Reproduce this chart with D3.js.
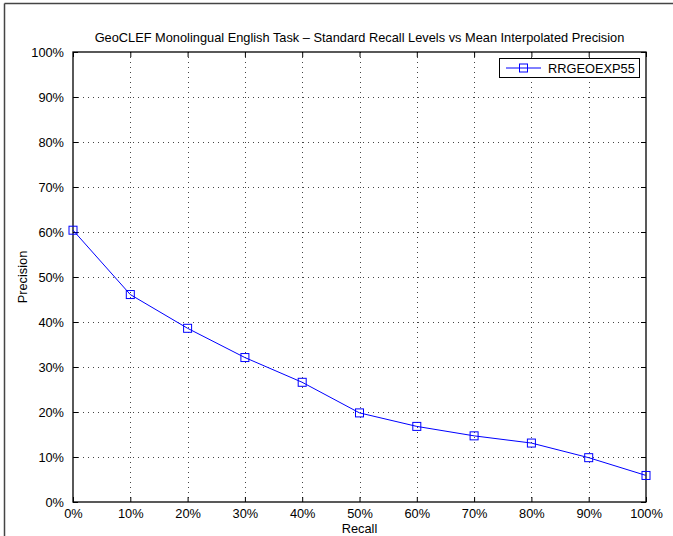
<!DOCTYPE html>
<html><head><meta charset="utf-8">
<script src="https://cdn.jsdelivr.net/npm/d3@7/dist/d3.min.js"></script>
<style>body{margin:0;background:#fff}svg{display:block}text{font-family:"Liberation Sans",Arial,sans-serif;fill:#000}</style>
</head><body><svg id="c" width="673" height="536"></svg>
<script>
const title = "GeoCLEF Monolingual English Task \u2013 Standard Recall Levels vs Mean Interpolated Precision";
const recallLevels = [0, 10, 20, 30, 40, 50, 60, 70, 80, 90, 100];
const precision = [60.4, 46.1, 38.6, 32.1, 26.6, 19.8, 16.8, 14.7, 13.1, 9.85, 5.9];
const seriesName = "RRGEOEXP55";
const xTicks = [0, 10, 20, 30, 40, 50, 60, 70, 80, 90, 100];
const yTicks = [0, 10, 20, 30, 40, 50, 60, 70, 80, 90, 100];
const xLabel = "Recall", yLabel = "Precision";

const svg = d3.select("#c");
const L = 73, R = 646, T = 52, B = 502;
const FS = "12.8px";
const x = d3.scaleLinear().domain([0, 100]).range([L, R]);
const y = d3.scaleLinear().domain([0, 100]).range([B, T]);

// outer frame (top and left visible)
svg.append("line").attr("x1", 4.5).attr("x2", 673).attr("y1", 3.5).attr("y2", 3.5).attr("stroke", "#444").attr("stroke-width", 1.5);
svg.append("line").attr("x1", 4.5).attr("x2", 4.5).attr("y1", 3.5).attr("y2", 536).attr("stroke", "#444").attr("stroke-width", 1.5);

// grid
const g = svg.append("g");
g.selectAll(".gx").data(xTicks.slice(1, -1)).enter().append("line")
  .attr("x1", d => Math.round(x(d)) + 0.5).attr("x2", d => Math.round(x(d)) + 0.5)
  .attr("y1", T).attr("y2", B).attr("stroke", "#444").attr("stroke-dasharray", "1,4");
g.selectAll(".gy").data(yTicks.slice(1, -1)).enter().append("line")
  .attr("y1", d => Math.round(y(d)) + 0.5).attr("y2", d => Math.round(y(d)) + 0.5)
  .attr("x1", L).attr("x2", R).attr("stroke", "#444").attr("stroke-dasharray", "1,4");

// axes with inward ticks
const ax = svg.append("g").attr("transform", `translate(0,${B})`)
  .call(d3.axisBottom(x).tickValues(xTicks).tickFormat(d => d + "%").tickSizeInner(-5).tickSizeOuter(0).tickPadding(7));
const axTop = svg.append("g").attr("transform", `translate(0,${T})`)
  .call(d3.axisTop(x).tickValues(xTicks).tickFormat("").tickSizeInner(-5).tickSizeOuter(0));
const ay = svg.append("g").attr("transform", `translate(${L},0)`)
  .call(d3.axisLeft(y).tickValues(yTicks).tickFormat(d => d + "%").tickSizeInner(-5).tickSizeOuter(0).tickPadding(9));
const ayR = svg.append("g").attr("transform", `translate(${R},0)`)
  .call(d3.axisRight(y).tickValues(yTicks).tickFormat("").tickSizeInner(-5).tickSizeOuter(0));
[ax, axTop, ay, ayR].forEach(a => {
  a.selectAll(".domain").remove();
  a.selectAll("line").attr("stroke", "#000");
  a.selectAll("text").style("font-size", FS).attr("fill", "#000");
});
ax.selectAll("text").attr("dy", "0.71em");

// box
svg.append("rect").attr("x", L).attr("y", T).attr("width", R - L).attr("height", B - T)
  .attr("fill", "none").attr("stroke", "#000").attr("stroke-width", 1.3);

// title and labels
svg.append("text").attr("x", (L + R) / 2).attr("y", 42).attr("text-anchor", "middle").style("font-size", FS).text(title);
svg.append("text").attr("x", (L + R) / 2).attr("y", 533).attr("text-anchor", "middle").style("font-size", FS).text(xLabel);
svg.append("text").attr("transform", `translate(27,${(T + B) / 2}) rotate(-90)`).attr("text-anchor", "middle").style("font-size", FS).text(yLabel);

// series
const pts = recallLevels.map((r, i) => [r, precision[i]]);
svg.append("path").datum(pts).attr("fill", "none").attr("stroke", "#0000ff").attr("stroke-width", 1)
  .attr("d", d3.line().x(d => x(d[0])).y(d => y(d[1])));
svg.selectAll(".m").data(pts).enter().append("rect")
  .attr("x", d => x(d[0]) - 4).attr("y", d => y(d[1]) - 4).attr("width", 8).attr("height", 8)
  .attr("fill", "none").attr("stroke", "#0000ff").attr("stroke-width", 1);

// legend
const lg = svg.append("g");
lg.append("rect").attr("x", 499.5).attr("y", 58.5).attr("width", 140).attr("height", 19)
  .attr("fill", "#fff").attr("stroke", "#000").attr("stroke-width", 1);
lg.append("line").attr("x1", 506).attr("x2", 541).attr("y1", 68).attr("y2", 68).attr("stroke", "#0000ff");
lg.append("rect").attr("x", 519.5).attr("y", 64).attr("width", 8).attr("height", 8).attr("fill", "none").attr("stroke", "#0000ff");
lg.append("text").attr("x", 548).attr("y", 72.5).style("font-size", FS).text(seriesName);
</script></body></html>
